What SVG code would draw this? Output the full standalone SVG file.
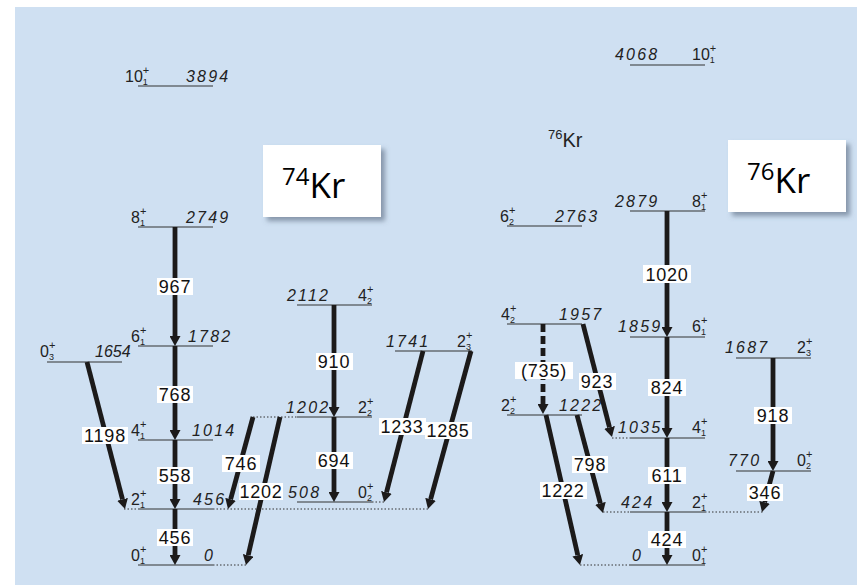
<svg xmlns="http://www.w3.org/2000/svg" width="857" height="585" viewBox="0 0 857 585">
<defs>
<style>
.bg{fill:#cfe0f2}
.lv{stroke:#333;stroke-width:1.2;fill:none}
.dot{stroke:#333;stroke-width:1;stroke-dasharray:1.5 2;fill:none}
.ar{stroke:#1c1a1a;stroke-width:4.8;fill:none;marker-end:url(#ah)}
.dash{stroke-dasharray:8 4}
.sp{font-family:"Liberation Sans",Arial,sans-serif;font-size:16px;fill:#222}
.sb{font-size:9px}
.su{font-size:11px}
.en{font-family:"Liberation Sans",Arial,sans-serif;font-size:16px;font-style:italic;fill:#222;letter-spacing:2.2px}
.bx{fill:#fff}
.tl{font-family:"Liberation Sans",Arial,sans-serif;font-size:18px;fill:#111;text-anchor:middle;letter-spacing:0.8px}
.title{font-family:"Open Sans","Liberation Sans",sans-serif;fill:#000}
</style>
<marker id="ah" viewBox="0 0 10 11" refX="0" refY="5.5" markerWidth="10" markerHeight="11" markerUnits="userSpaceOnUse" orient="auto">
<path d="M0,0 L10,5.5 L0,11 Z" fill="#1c1a1a"/>
</marker>
<filter id="sh" x="-20%" y="-20%" width="150%" height="150%">
<feDropShadow dx="4" dy="4" stdDeviation="2.5" flood-color="#56657a" flood-opacity="0.6"/>
</filter>
</defs>
<rect class="bg" x="15" y="7" width="842" height="578"/>

<!-- 74Kr title -->
<g id="title74">
<rect x="263" y="145" width="118" height="72" fill="#fff" filter="url(#sh)"/>
<text class="title" x="282" y="198" font-size="35">
<tspan font-size="24" dy="-13">74</tspan><tspan dy="13">Kr</tspan></text>
</g>
<!-- 76Kr title -->
<g id="title76">
<rect x="728" y="140" width="118" height="72" fill="#fff" filter="url(#sh)"/>
<text class="title" x="747" y="193" font-size="35">
<tspan font-size="24" dy="-13">76</tspan><tspan dy="13">Kr</tspan></text>
</g>
<g id="label76small">
<text class="sp" x="548" y="147" font-size="20"><tspan font-size="13" dy="-8">76</tspan><tspan dy="8" font-size="20">Kr</tspan></text>
</g>

<!-- 74Kr levels -->
<g id="kr74-10"><line class="lv" x1="138" y1="86" x2="213" y2="86"/>
<text class="sp" x="125" y="82">10<tspan class="sb" dy="3">1</tspan><tspan class="su" dx="-5" dy="-11">+</tspan></text>
<text class="en" x="186" y="82">3894</text></g>
<g id="kr74-8"><line class="lv" x1="138" y1="227" x2="213" y2="227"/>
<text class="sp" x="131" y="223">8<tspan class="sb" dy="3">1</tspan><tspan class="su" dx="-5" dy="-11">+</tspan></text>
<text class="en" x="186" y="223">2749</text></g>
<g id="kr74-6"><line class="lv" x1="138" y1="346" x2="213" y2="346"/>
<text class="sp" x="131" y="342">6<tspan class="sb" dy="3">1</tspan><tspan class="su" dx="-5" dy="-11">+</tspan></text>
<text class="en" x="188" y="342">1782</text></g>
<g id="kr74-4"><line class="lv" x1="138" y1="440" x2="213" y2="440"/>
<text class="sp" x="131" y="436">4<tspan class="sb" dy="3">1</tspan><tspan class="su" dx="-5" dy="-11">+</tspan></text>
<text class="en" x="192" y="436">1014</text></g>
<g id="kr74-2"><line class="lv" x1="138" y1="509" x2="213" y2="509"/>
<line class="dot" x1="124" y1="509" x2="138" y2="509"/>
<line class="dot" x1="213" y1="509" x2="429" y2="509"/>
<text class="sp" x="131" y="505">2<tspan class="sb" dy="3">1</tspan><tspan class="su" dx="-5" dy="-11">+</tspan></text>
<text class="en" x="193" y="505">456</text></g>
<g id="kr74-0"><line class="lv" x1="138" y1="565" x2="213" y2="565"/>
<line class="dot" x1="213" y1="565" x2="247" y2="565"/>
<text class="sp" x="131" y="561">0<tspan class="sb" dy="3">1</tspan><tspan class="su" dx="-5" dy="-11">+</tspan></text>
<text class="en" x="204" y="561">0</text></g>
<g id="kr74-03"><line class="lv" x1="47" y1="362" x2="122" y2="362"/>
<text class="sp" x="40" y="357">0<tspan class="sb" dy="3">3</tspan><tspan class="su" dx="-5" dy="-11">+</tspan></text>
<text class="en" x="95" y="357" style="letter-spacing:0">1654</text></g>
<g id="kr74-42"><line class="lv" x1="297" y1="305" x2="372" y2="305"/>
<text class="en" x="287" y="301">2112</text>
<text class="sp" x="358" y="301">4<tspan class="sb" dy="3">2</tspan><tspan class="su" dx="-5" dy="-11">+</tspan></text></g>
<g id="kr74-22"><line class="lv" x1="297" y1="417" x2="372" y2="417"/>
<line class="dot" x1="253" y1="417" x2="297" y2="417"/>
<text class="en" x="286" y="413">1202</text>
<text class="sp" x="358" y="413">2<tspan class="sb" dy="3">2</tspan><tspan class="su" dx="-5" dy="-11">+</tspan></text></g>
<g id="kr74-02"><line class="lv" x1="297" y1="502" x2="372" y2="502"/>
<line class="dot" x1="372" y1="502" x2="385" y2="502"/>
<text class="en" x="288" y="498">508</text>
<text class="sp" x="358" y="498">0<tspan class="sb" dy="3">2</tspan><tspan class="su" dx="-5" dy="-11">+</tspan></text></g>
<g id="kr74-23"><line class="lv" x1="395" y1="351" x2="472" y2="351"/>
<text class="en" x="386" y="347">1741</text>
<text class="sp" x="457" y="347">2<tspan class="sb" dy="3">3</tspan><tspan class="su" dx="-5" dy="-11">+</tspan></text></g>

<!-- 76Kr levels -->
<g id="kr76-10"><line class="lv" x1="630" y1="65" x2="705" y2="65"/>
<text class="en" x="615" y="60">4068</text>
<text class="sp" x="692" y="60">10<tspan class="sb" dy="3">1</tspan><tspan class="su" dx="-5" dy="-11">+</tspan></text></g>
<g id="kr76-8"><line class="lv" x1="630" y1="211" x2="705" y2="211"/>
<text class="en" x="615" y="207">2879</text>
<text class="sp" x="692" y="207">8<tspan class="sb" dy="3">1</tspan><tspan class="su" dx="-5" dy="-11">+</tspan></text></g>
<g id="kr76-62"><line class="lv" x1="507" y1="226" x2="582" y2="226"/>
<text class="sp" x="500" y="222">6<tspan class="sb" dy="3">2</tspan><tspan class="su" dx="-5" dy="-11">+</tspan></text>
<text class="en" x="555" y="222">2763</text></g>
<g id="kr76-6"><line class="lv" x1="630" y1="337" x2="705" y2="337"/>
<text class="en" x="618" y="332">1859</text>
<text class="sp" x="692" y="332">6<tspan class="sb" dy="3">1</tspan><tspan class="su" dx="-5" dy="-11">+</tspan></text></g>
<g id="kr76-4"><line class="lv" x1="630" y1="438" x2="705" y2="438"/>
<line class="dot" x1="612" y1="438" x2="630" y2="438"/>
<text class="en" x="618" y="433">1035</text>
<text class="sp" x="692" y="433">4<tspan class="sb" dy="3">1</tspan><tspan class="su" dx="-5" dy="-11">+</tspan></text></g>
<g id="kr76-2"><line class="lv" x1="630" y1="512" x2="705" y2="512"/>
<line class="dot" x1="603" y1="512" x2="630" y2="512"/>
<line class="dot" x1="705" y1="512" x2="763" y2="512"/>
<text class="en" x="621" y="508">424</text>
<text class="sp" x="692" y="508">2<tspan class="sb" dy="3">1</tspan><tspan class="su" dx="-5" dy="-11">+</tspan></text></g>
<g id="kr76-0"><line class="lv" x1="630" y1="565" x2="705" y2="565"/>
<line class="dot" x1="580" y1="565" x2="630" y2="565"/>
<text class="en" x="632" y="561">0</text>
<text class="sp" x="692" y="561">0<tspan class="sb" dy="3">1</tspan><tspan class="su" dx="-5" dy="-11">+</tspan></text></g>
<g id="kr76-23"><line class="lv" x1="736" y1="358" x2="811" y2="358"/>
<text class="en" x="725" y="353">1687</text>
<text class="sp" x="797" y="353">2<tspan class="sb" dy="3">3</tspan><tspan class="su" dx="-5" dy="-11">+</tspan></text></g>
<g id="kr76-02"><line class="lv" x1="736" y1="471" x2="811" y2="471"/>
<text class="en" x="728" y="466">770</text>
<text class="sp" x="797" y="466">0<tspan class="sb" dy="3">2</tspan><tspan class="su" dx="-5" dy="-11">+</tspan></text></g>
<g id="kr76-42"><line class="lv" x1="507" y1="324" x2="582" y2="324"/>
<text class="sp" x="501" y="320">4<tspan class="sb" dy="3">2</tspan><tspan class="su" dx="-5" dy="-11">+</tspan></text>
<text class="en" x="559" y="320">1957</text></g>
<g id="kr76-22"><line class="lv" x1="507" y1="415" x2="582" y2="415"/>
<text class="sp" x="501" y="411">2<tspan class="sb" dy="3">2</tspan><tspan class="su" dx="-5" dy="-11">+</tspan></text>
<text class="en" x="559" y="411">1222</text></g>

<!-- transitions -->
<g id="connectors">
<line class="ar" x1="175" y1="227" x2="175" y2="336"/>
<line class="ar" x1="175" y1="346" x2="175" y2="430"/>
<line class="ar" x1="175" y1="440" x2="175" y2="499"/>
<line class="ar" x1="175" y1="509" x2="175" y2="555"/>
<line class="ar" x1="87" y1="362" x2="122.5" y2="499.3"/>
<line class="ar" x1="334" y1="305" x2="334" y2="407"/>
<line class="ar" x1="334" y1="417" x2="334" y2="492"/>
<line class="ar" x1="253" y1="417" x2="230.6" y2="499.3"/>
<line class="ar" x1="280" y1="417" x2="248.2" y2="555.3"/>
<line class="ar" x1="423" y1="351" x2="386.5" y2="492.3"/>
<line class="ar" x1="471" y1="351" x2="430.6" y2="499.3"/>
<line class="ar" x1="667" y1="211" x2="667" y2="327"/>
<line class="ar" x1="667" y1="337" x2="667" y2="428"/>
<line class="ar" x1="667" y1="438" x2="667" y2="502"/>
<line class="ar" x1="667" y1="512" x2="667" y2="555"/>
<line class="ar" x1="773" y1="358" x2="773" y2="461"/>
<line class="ar" x1="773" y1="471" x2="764.6" y2="502.3"/>
<line class="ar dash" x1="543" y1="324" x2="543" y2="404"/>
<line class="ar" x1="583" y1="324" x2="609.5" y2="427.3"/>
<line class="ar" x1="546" y1="415" x2="577.8" y2="555.3"/>
<line class="ar" x1="577" y1="415" x2="600.4" y2="503.3"/>

<rect class="bx" x="157" y="278" width="36" height="17"/><text class="tl" x="175" y="293">967</text>
<rect class="bx" x="157" y="386" width="36" height="17"/><text class="tl" x="175" y="401">768</text>
<rect class="bx" x="157" y="467" width="36" height="17"/><text class="tl" x="175" y="482">558</text>
<rect class="bx" x="157" y="529" width="36" height="17"/><text class="tl" x="175" y="544">456</text>
<rect class="bx" x="82" y="427" width="46" height="17"/><text class="tl" x="105" y="442">1198</text>
<rect class="bx" x="316" y="353" width="37" height="17"/><text class="tl" x="334" y="368">910</text>
<rect class="bx" x="316" y="452" width="37" height="17"/><text class="tl" x="334" y="467">694</text>
<rect class="bx" x="222" y="455" width="38" height="17"/><text class="tl" x="241" y="470">746</text>
<rect class="bx" x="239" y="483" width="44" height="17"/><text class="tl" x="261" y="498">1202</text>
<rect class="bx" x="379" y="418" width="47" height="17"/><text class="tl" x="402" y="433">1233</text>
<rect class="bx" x="425" y="422" width="47" height="17"/><text class="tl" x="448" y="437">1285</text>
<rect class="bx" x="643" y="265" width="48" height="18"/><text class="tl" x="667" y="280.5">1020</text>
<rect class="bx" x="648" y="379" width="38" height="17"/><text class="tl" x="667" y="394">824</text>
<rect class="bx" x="648" y="467" width="38" height="17"/><text class="tl" x="667" y="482">611</text>
<rect class="bx" x="648" y="531" width="38" height="17"/><text class="tl" x="667" y="546">424</text>
<rect class="bx" x="754" y="407" width="38" height="17"/><text class="tl" x="773" y="422">918</text>
<rect class="bx" x="747" y="484" width="36" height="17"/><text class="tl" x="765" y="499">346</text>
<rect class="bx" x="515" y="362" width="58" height="17"/><text class="tl" x="544" y="377">(735)</text>
<rect class="bx" x="579" y="373" width="37" height="17"/><text class="tl" x="597" y="388">923</text>
<rect class="bx" x="540" y="482" width="47" height="17"/><text class="tl" x="563" y="497">1222</text>
<rect class="bx" x="572" y="456" width="36" height="17"/><text class="tl" x="590" y="471">798</text>
</g>
</svg>
